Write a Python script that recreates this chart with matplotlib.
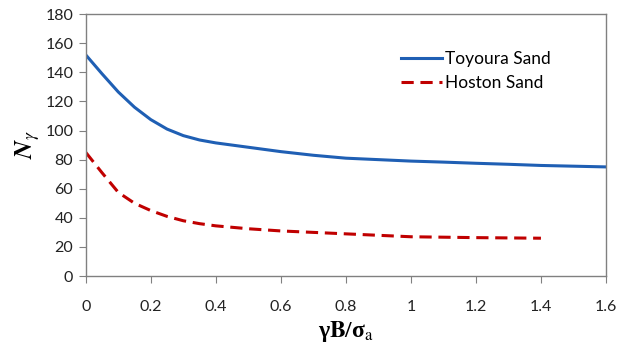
import matplotlib.pyplot as plt

# data
x_toy = [0, 0.05, 0.1, 0.15, 0.2, 0.25, 0.3, 0.35, 0.4, 0.45, 0.5, 0.6, 0.7,
         0.8, 0.9, 1.0, 1.1, 1.2, 1.3, 1.4, 1.5, 1.6]
n_toy = [152, 139, 126.5, 116, 107.5, 101, 96.5, 93.5, 91.5, 90, 88.5, 85.5, 83,
         81, 80, 79, 78.3, 77.5, 76.8, 76, 75.5, 75]
x_hos = [0, 0.05, 0.1, 0.15, 0.2, 0.25, 0.3, 0.35, 0.4, 0.5, 0.6, 0.7, 0.8,
         0.9, 1.0, 1.1, 1.2, 1.3, 1.4]
n_hos = [85, 71, 57.5, 50, 45, 41, 38, 36, 34.5, 32.5, 31, 30, 29,
         28, 27, 26.7, 26.4, 26.2, 26]

xticks = [0, 0.2, 0.4, 0.6, 0.8, 1, 1.2, 1.4, 1.6]
xticklabels = ["0", "0.2", "0.4", "0.6", "0.8", "1", "1.2", "1.4", "1.6"]
yticks = list(range(0, 181, 20))

plt.rcParams['font.family'] = ['Lato', 'DejaVu Sans']
plt.rcParams['mathtext.fontset'] = 'stix'

fig, ax = plt.subplots(figsize=(6.26, 3.53), dpi=100)
fig.subplots_adjust(left=0.137, right=0.968, top=0.96, bottom=0.218)

ax.plot(x_toy, n_toy, color="#1f5fb4", lw=2.2, label="Toyoura Sand")
ax.plot(x_hos, n_hos, color="#c00000", lw=2.2, linestyle=(0, (4, 2.2)),
        label="Hoston Sand")

ax.set_xlim(0, 1.6)
ax.set_ylim(0, 180)
ax.set_xticks(xticks)
ax.set_xticklabels(xticklabels)
ax.set_yticks(yticks)
for s in ax.spines.values():
    s.set_color("#808080")
    s.set_linewidth(1)
ax.tick_params(direction="out", length=5, color="#808080", labelsize=11.5,
               labelcolor="#222222", pad=4)
ax.tick_params(axis="x", pad=12)

ax.set_xlabel(r"γ$\mathbf{B}$/σ$_{\mathrm{a}}$", fontsize=17, labelpad=4,
              family="Liberation Serif", fontweight="bold")
ax.set_ylabel(r"$\mathbfit{N}_{\gamma}$", fontsize=18, labelpad=2)

leg = ax.legend(loc="upper left", bbox_to_anchor=(0.575, 0.92), frameon=False,
                fontsize=12.5, handlelength=2.4, handletextpad=0.15,
                labelspacing=0.5)

fig.savefig("out.png", dpi=100)
